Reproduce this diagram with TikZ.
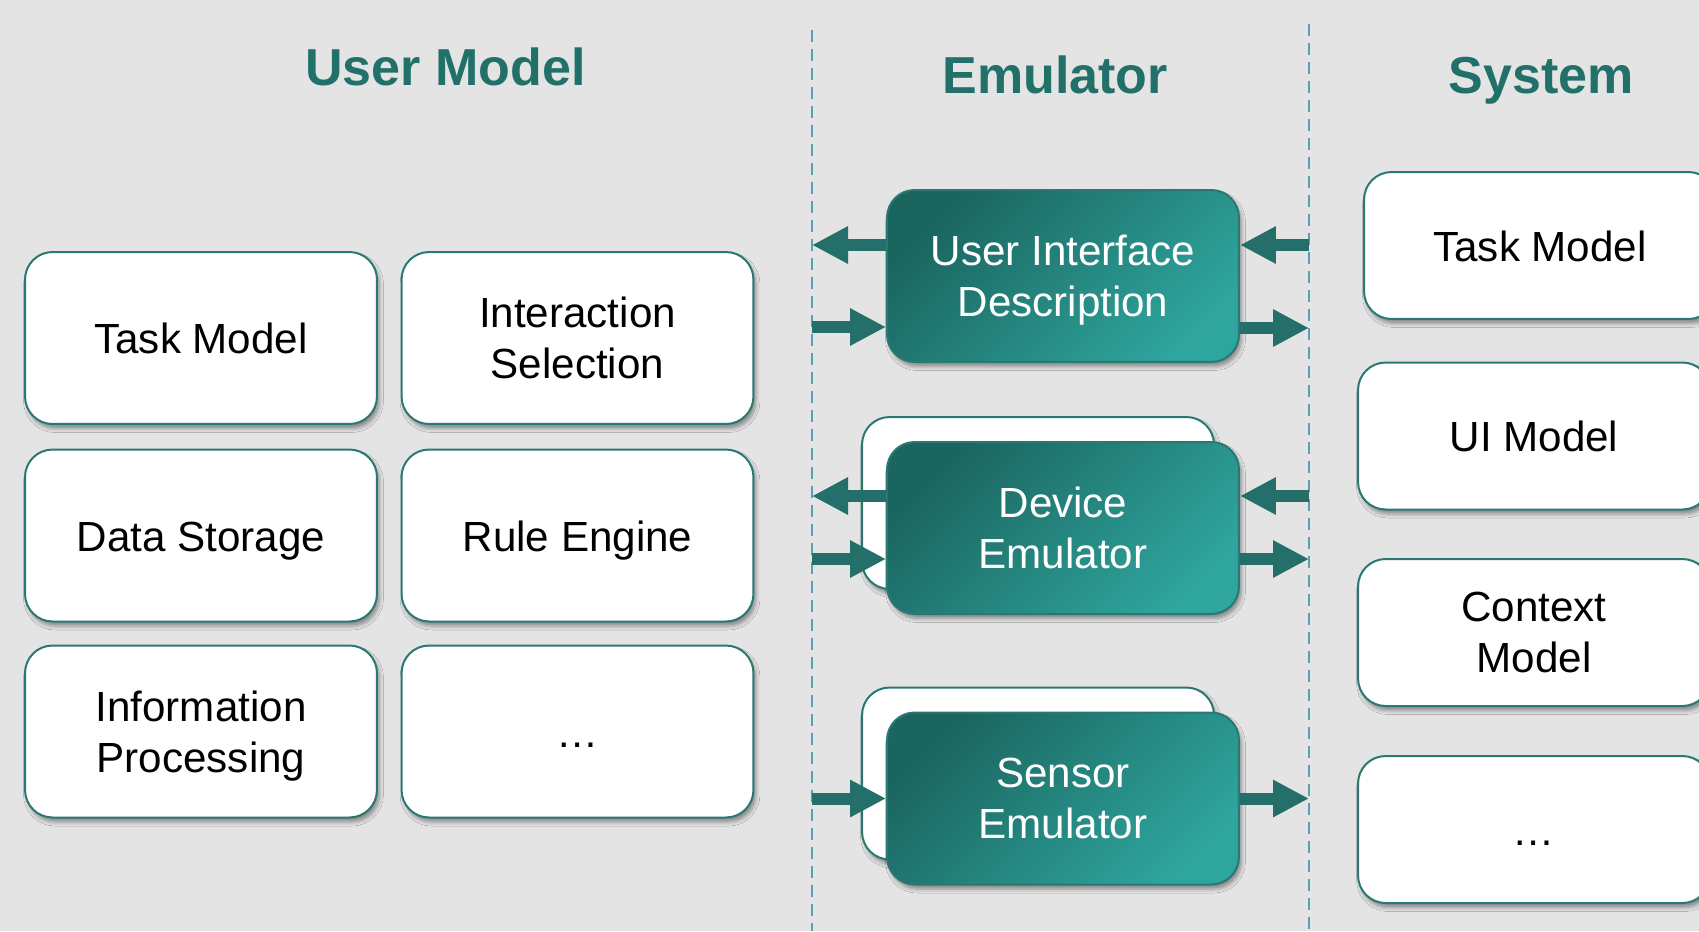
\documentclass[tikz,border=0pt]{standalone}
\usepackage{fontspec}
\setmainfont{Liberation Sans}
\usetikzlibrary{arrows.meta,shadows.blur}

\definecolor{bggray}{HTML}{E4E4E4}
\definecolor{headteal}{HTML}{22706A}
\definecolor{edgeteal}{HTML}{2A7872}
\definecolor{darkteal}{HTML}{1B655F}
\definecolor{lightteal}{HTML}{2EA59D}
\definecolor{arrowteal}{HTML}{246F6A}
\definecolor{sepblue}{HTML}{5B9FB3}

% strut so that one-line labels sit like the two-line ones
\newcommand{\topstrut}{\rule{0pt}{18.1pt}}

\tikzset{
  module/.style={draw=edgeteal, line width=0.04cm, fill=white, rounded corners=0.55cm,
    minimum width=7.04cm, minimum height=3.44cm, align=center,
    font=\fontsize{24}{29}\selectfont,
    execute at begin node=\topstrut, text depth=-3.4pt,
    blur shadow={shadow xshift=0.05cm, shadow yshift=-0.09cm, shadow blur radius=0.08cm}},
  sysmodule/.style={module, minimum height=2.94cm},
  emu/.style={module, text=white, top color=darkteal, bottom color=lightteal, shading angle=45},
  heading/.style={font=\fontsize{29.6}{36}\selectfont\bfseries, text=headteal, anchor=base},
  flow/.style={draw=arrowteal, line width=0.24cm, -{Triangle[length=0.72cm, width=0.7cm]}},
  sep/.style={sepblue, line width=0.03cm, dash pattern=on 0.24cm off 0.14cm}
}

\begin{document}
\begin{tikzpicture}[x=0.02cm, y=-0.02cm]
  \useasboundingbox (0,0) rectangle (1699,931);
  \clip (0,0) rectangle (1699,931);
  \fill[bggray] (0,0) rectangle (1699,931);

  % column headings
  \node[heading] (umtitle) at (445.5,85) {User Model};
  \node[heading] (emtitle) at (1055,93) {Emulator};
  \node[heading] (systitle) at (1541,93) {System};

  % column separators
  \coordinate (lsep) at (812,0);
  \coordinate (rsep) at (1309,0);
  \draw[sep] (812,30) -- (812,931);
  \draw[sep] (1309,24) -- (1309,931);

  % user model
  \node[module] (task) at (201,338) {Task Model};
  \node[module] (select) at (577.5,338) {Interaction\\Selection};
  \node[module] (data) at (201,535.5) {Data Storage};
  \node[module] (rules) at (577.5,535.5) {Rule Engine};
  \node[module] (info) at (201,731.5) {Information\\Processing};
  \node[module] (umore) at (577.5,731.5) {…};

  % emulator, stacked boxes for device and sensor
  \node[module] (devback) at (1038,503) {};
  \node[module] (senback) at (1038,773.5) {};
  \node[emu] (uid) at (1063,276) {User Interface\\Description};
  \node[emu] (dev) at (1063,528) {Device\\Emulator};
  \node[emu] (sen) at (1063,798.5) {Sensor\\Emulator};

  % system
  \node[sysmodule] (systask) at (1540,245.5) {Task Model};
  \node[sysmodule] (sysui) at (1534,436) {UI Model};
  \node[sysmodule] (sysctx) at (1534,632.5) {Context\\Model};
  \node[sysmodule] (sysmore) at (1534,829.5) {…};

  % data flow across the separators
  \draw[flow] (uid.west |- 0,245) -- (lsep |- 0,245);
  \draw[flow] (lsep |- 0,327) -- (uid.west |- 0,327);
  \draw[flow] (rsep |- 0,245) -- (uid.east |- 0,245);
  \draw[flow] (uid.east |- 0,328) -- (rsep |- 0,328);
  \draw[flow] (dev.west |- 0,496) -- (lsep |- 0,496);
  \draw[flow] (lsep |- 0,559) -- (dev.west |- 0,559);
  \draw[flow] (rsep |- 0,496) -- (dev.east |- 0,496);
  \draw[flow] (dev.east |- 0,559) -- (rsep |- 0,559);
  \draw[flow] (lsep |- sen.west) -- (sen.west);
  \draw[flow] (sen.east) -- (rsep |- sen.east);
\end{tikzpicture}
\end{document}
